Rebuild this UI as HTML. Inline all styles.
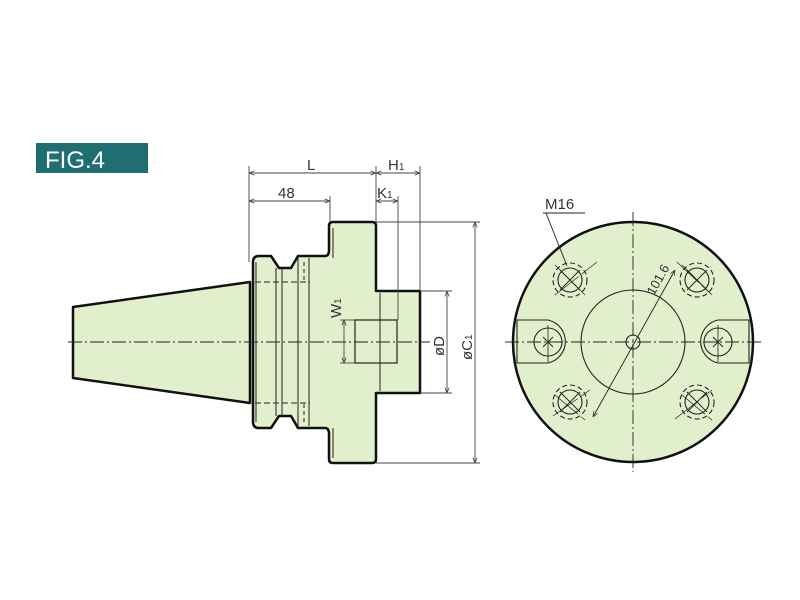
<!DOCTYPE html>
<html><head><meta charset="utf-8"><style>
html,body{margin:0;padding:0;background:#fff;width:800px;height:600px;overflow:hidden}
svg{display:block}
text{font-family:"Liberation Sans",sans-serif;fill:#333}
</style></head><body>
<svg width="800" height="600" viewBox="0 0 800 600" xmlns="http://www.w3.org/2000/svg">
<defs>
<marker id="a" viewBox="0 0 10 10" refX="10" refY="5" markerWidth="6" markerHeight="6" orient="auto-start-reverse"><path d="M0,1 L10,5 L0,9" fill="none" stroke="#444" stroke-width="1.5"/></marker>
</defs>
<rect x="36" y="143" width="112" height="30" fill="#1f6f72"/>
<text x="45" y="168" font-size="24" style="fill:#fff">FIG.4</text>

<!-- side view -->
<g fill="#e1efcd" stroke="#111" stroke-width="2.5" stroke-linejoin="round">
<path d="M73,307 L250,282 L250,403 L73,378 Z"/>
<path d="M253,262 Q253,256 259,256 L271,256 L279,268 L291,268 L298,256 L325,256 Q329,256 329,250 L329,226 Q329,222 333,222 L372,222 Q376,222 376,226 L376,291 L420,291 L420,393 L376,393 L376,459 Q376,463 372,463 L333,463 Q329,463 329,459 L329,434 Q329,428 325,428 L298,428 L291,416 L279,416 L271,428 L259,428 Q253,428 253,422 Z"/>
</g>
<g stroke="#222" stroke-width="1" fill="none">
<line x1="256" y1="262" x2="256" y2="422"/>
<line x1="276" y1="268" x2="276" y2="416"/>
<line x1="282" y1="268" x2="282" y2="416"/>
<line x1="298" y1="258" x2="298" y2="426"/>
<line x1="309" y1="258" x2="309" y2="426"/>
<line x1="333" y1="228" x2="333" y2="258"/>
<line x1="333" y1="428" x2="333" y2="458"/>
<line x1="380" y1="293" x2="380" y2="391"/>
<rect x="355" y="320" width="42" height="43" stroke-width="1.2"/>
<line x1="255" y1="282" x2="310" y2="282" stroke-dasharray="6,3"/>
<line x1="255" y1="403" x2="310" y2="403" stroke-dasharray="6,3"/>
<line x1="304" y1="262" x2="304" y2="280" stroke-dasharray="4,3"/>
<line x1="304" y1="404" x2="304" y2="422" stroke-dasharray="4,3"/>
<line x1="68" y1="342" x2="430" y2="342" stroke-dasharray="14,3,2,3"/>
</g>
<!-- dims side -->
<g stroke="#444" stroke-width="0.9" fill="none">
<line x1="249" y1="166" x2="249" y2="262"/>
<line x1="330" y1="196" x2="330" y2="222"/>
<line x1="376" y1="166" x2="376" y2="222"/>
<line x1="398" y1="196" x2="398" y2="320"/>
<line x1="420" y1="166" x2="420" y2="291"/>
<line x1="249" y1="173" x2="376" y2="173" marker-start="url(#a)" marker-end="url(#a)"/>
<line x1="376" y1="173" x2="420" y2="173" marker-start="url(#a)" marker-end="url(#a)"/>
<line x1="249" y1="201" x2="330" y2="201" marker-start="url(#a)" marker-end="url(#a)"/>
<line x1="376" y1="201" x2="398" y2="201" marker-start="url(#a)" marker-end="url(#a)"/>
<line x1="376" y1="222" x2="480" y2="222"/>
<line x1="376" y1="463" x2="480" y2="463"/>
<line x1="420" y1="291" x2="452" y2="291"/>
<line x1="420" y1="393" x2="452" y2="393"/>
<line x1="475" y1="222" x2="475" y2="463" marker-start="url(#a)" marker-end="url(#a)"/>
<line x1="447" y1="291" x2="447" y2="393" marker-start="url(#a)" marker-end="url(#a)"/>
<line x1="340" y1="320" x2="355" y2="320"/>
<line x1="340" y1="363" x2="355" y2="363"/>
<line x1="344" y1="320" x2="344" y2="363" marker-start="url(#a)" marker-end="url(#a)"/>
</g>
<text x="307" y="170" font-size="15">L</text>
<text x="388" y="170" font-size="15">H<tspan font-size="10">1</tspan></text>
<text x="278" y="198" font-size="15">48</text>
<text x="377" y="198" font-size="15">K<tspan font-size="10">1</tspan></text>
<text transform="translate(341,318) rotate(-90)" font-size="15">W<tspan font-size="10">1</tspan></text>
<text transform="translate(444,356) rotate(-90)" font-size="15">øD</text>
<text transform="translate(472,360) rotate(-90)" font-size="15">øC<tspan font-size="10">1</tspan></text>

<!-- front view -->
<circle cx="633" cy="342" r="120" fill="#e1efcd" stroke="#111" stroke-width="2.5"/>
<g stroke="#222" stroke-width="1.1" fill="none">
<path d="M517,320 L548,320 A22,22 0 0 1 548,363 L517,363 Z"/>
<path d="M749,320 L718,320 A22,22 0 0 0 718,363 L749,363 Z"/>
<circle cx="548" cy="342" r="14"/><circle cx="718" cy="342" r="14"/>
<circle cx="633" cy="342" r="52"/>
<circle cx="633" cy="342" r="7"/>
<line x1="505" y1="342" x2="762" y2="342" stroke-dasharray="14,3,2,3" stroke-width="0.9"/>
<line x1="633" y1="212" x2="633" y2="472" stroke-dasharray="14,3,2,3" stroke-width="0.9"/>
<line x1="548" y1="325" x2="548" y2="362" stroke-width="0.8"/>
<line x1="718" y1="325" x2="718" y2="362" stroke-width="0.8"/>
<path d="M543,337 L553,347 M553,337 L543,347 M713,337 L723,347 M723,337 L713,347" stroke-width="0.9"/>
<g>
<circle cx="570" cy="280" r="12"/><circle cx="570" cy="280" r="17" stroke-dasharray="5,3"/>
<circle cx="697" cy="280" r="12"/><circle cx="697" cy="280" r="17" stroke-dasharray="5,3"/>
<circle cx="570" cy="402" r="12"/><circle cx="570" cy="402" r="17" stroke-dasharray="5,3"/>
<circle cx="697" cy="402" r="12"/><circle cx="697" cy="402" r="17" stroke-dasharray="5,3"/>
<path d="M560,270 L580,290 M580,270 L560,290 M687,270 L707,290 M707,270 L687,290 M560,392 L580,412 M580,392 L560,412 M687,392 L707,412 M707,392 L687,412" stroke-width="0.9"/>
<path d="M555,265 L585,295 M555,295 L597,262 M682,265 L712,295 M677,262 L712,295 M555,395 L585,420 M553,416 L590,390 M682,395 L712,420 M675,419 L712,390" stroke-width="0.7" stroke-dasharray="30,4"/>
</g>
<line x1="593" y1="417" x2="675" y2="270" stroke-width="0.9" marker-start="url(#a)" marker-end="url(#a)"/>
<line x1="543" y1="213" x2="585" y2="213" stroke-width="0.9"/>
<line x1="546" y1="213" x2="567" y2="266" stroke-width="0.9"/>
</g>
<text x="545" y="209" font-size="15">M16</text>
<text transform="translate(654,296) rotate(-61)" font-size="13">101.6</text>
</svg>
</body></html>
